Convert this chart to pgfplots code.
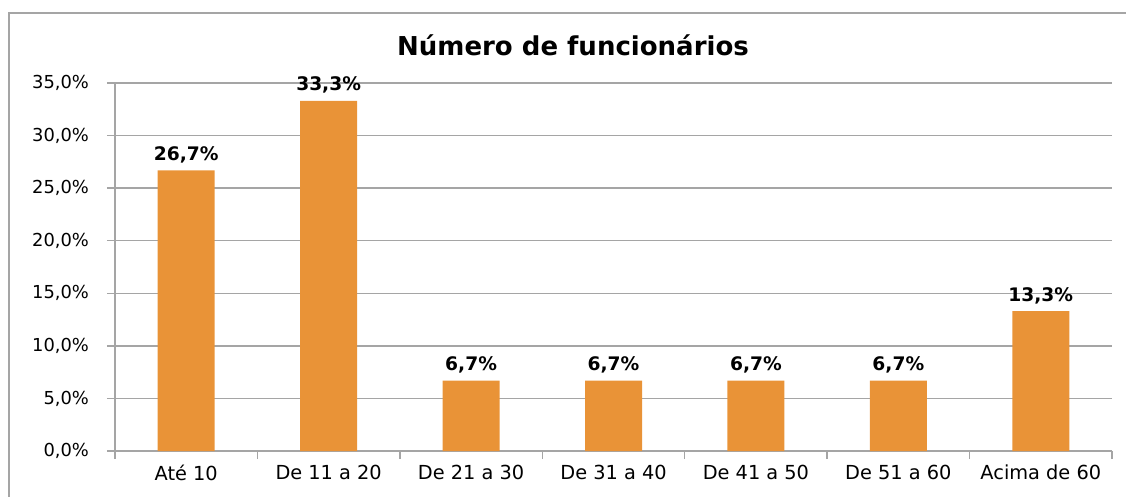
\documentclass[border=0pt]{standalone}
\usepackage{pgfplots}
\pgfplotsset{compat=1.18}
\usepackage{fontspec}
\setmainfont{DejaVu Sans}
\definecolor{barc}{RGB}{233,147,55}
\definecolor{gridc}{RGB}{165,165,165}
\begin{document}
\begin{tikzpicture}
\useasboundingbox (-86.25pt,-33.75pt) rectangle (758.25pt,338.25pt);
\draw[gridc, line width=1.1pt] (-79.5pt,-60pt) -- (-79.5pt,328.5pt) -- (790pt,328.5pt);
\node[font=\bfseries\fontsize{19.5pt}{22pt}\selectfont] at (343.5pt,304.5pt) {Número de funcionários};
\begin{axis}[
  at={(0,0)}, anchor=south west,
  width=747.75pt, height=276pt, scale only axis,
  xmin=-0.5, xmax=6.5, ymin=0, ymax=35,
  axis lines*=left,
  ytick={0,5,...,35},
  ymajorgrids,
  grid style={gridc, line width=1.1pt},
  axis line style={gridc, line width=1.1pt},
  tick style={gridc, line width=1.1pt},
  tick align=outside, major tick length=6pt,
  xtick={-0.5,0.5,...,6.5}, xticklabels={},
  extra x ticks={0,1,2,3,4,5,6},
  extra x tick labels={Até 10,De 11 a 20,De 21 a 30,De 31 a 40,De 41 a 50,De 51 a 60,Acima de 60},
  extra x tick style={major tick length=0pt, tick label style={yshift=-7pt}},
  /pgf/number format/assume math mode=true,
  yticklabel={\pgfmathprintnumber[fixed,fixed zerofill,precision=1,use comma]{\tick}\%},
  xticklabel style={font=\fontsize{14.5pt}{17pt}\selectfont, black},
  yticklabel style={font=\fontsize{13.4pt}{16pt}\selectfont, black, xshift=-10pt},
  ybar, bar width=42.75pt,
  point meta=y,
  nodes near coords={\pgfmathprintnumber[fixed,fixed zerofill,precision=1,use comma]{\pgfplotspointmeta}\%},
  nodes near coords style={font=\bfseries\fontsize{14pt}{17pt}\selectfont, black, anchor=south, yshift=2pt},
]
\addplot[fill=barc, draw=none] coordinates {(0,26.7) (1,33.3) (2,6.7) (3,6.7) (4,6.7) (5,6.7) (6,13.3)};
\end{axis}
\end{tikzpicture}
\end{document}
